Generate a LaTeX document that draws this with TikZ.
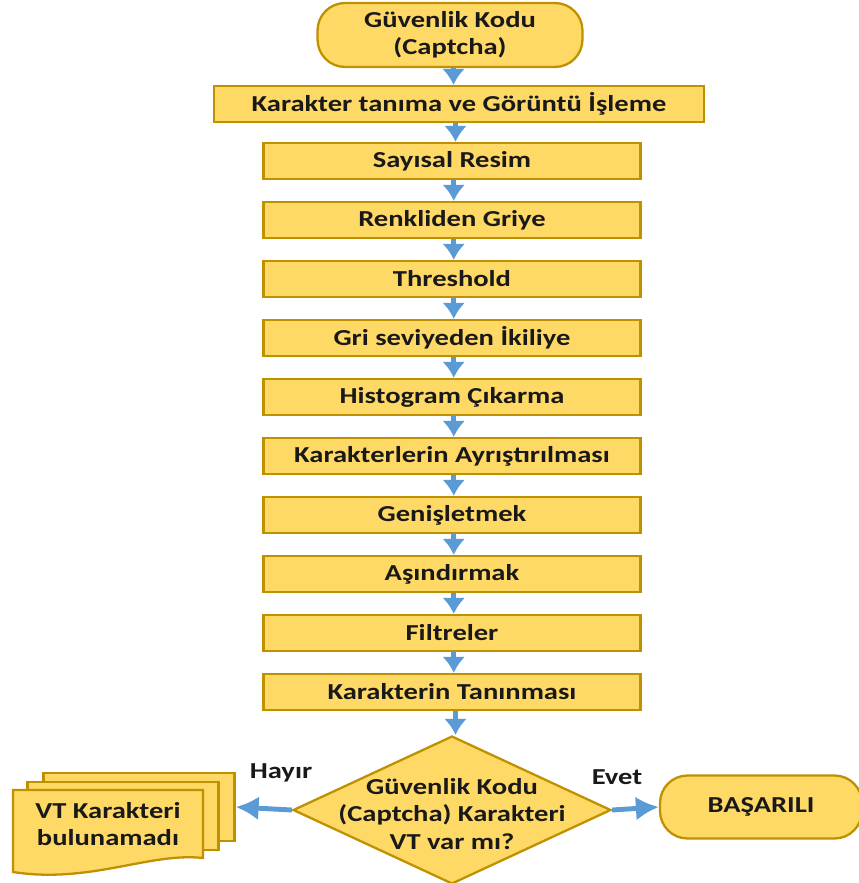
\documentclass[tikz,border=0pt]{standalone}
\usepackage{fontspec}
\setmainfont{Carlito}[FakeStretch=1.25]
\usetikzlibrary{shapes.geometric, arrows.meta}

\definecolor{boxfill}{HTML}{FFD966}
\definecolor{boxline}{HTML}{BF9000}
\definecolor{flowblue}{HTML}{5B9BD5}

\begin{document}
\begin{tikzpicture}[x=0.02cm, y=-0.02cm,
	every node/.style={font=\fontsize{13}{15.5}\selectfont\bfseries, text=black!90},
	stepbox/.style={draw=boxline, fill=boxfill, line width=1.3pt, minimum width=7.54cm, minimum height=0.72cm, inner sep=0pt},
	termbox/.style={draw=boxline, fill=boxfill, line width=1.3pt, rounded corners=0.55cm, inner sep=0pt, align=center},
	pagebox/.style={draw=boxline, fill=boxfill, line width=1.3pt, minimum width=3.82cm, minimum height=1.36cm, inner sep=0pt},
	flow/.style={->, >={Latex[length=3.2mm, width=4.6mm]}, line width=2.8pt, flowblue},
	sideflow/.style={flow, >={Latex[length=4.6mm, width=4.8mm]}}]
	\useasboundingbox (0,0) rectangle (859,883);

	% start
	\node[termbox, minimum width=5.3cm, minimum height=1.28cm] (start) at (450,35) {Güvenlik Kodu\\(Captcha)};
	\node[stepbox, minimum width=9.8cm] (s0) at (459,104) {Karakter tanıma ve Görüntü İşleme};
	\draw[flow] ([xshift=2pt]start.south) -- ([xshift=2pt]start.south |- s0.north);

	% processing steps
	\foreach \i/\txt in {1/Sayısal Resim, 2/Renkliden Griye, 3/Threshold, 4/Gri seviyeden İkiliye,
		5/Histogram Çıkarma, 6/Karakterlerin Ayrıştırılması, 7/Genişletmek, 8/Aşındırmak,
		9/Filtreler, 10/Karakterin Tanınması}
		\node[stepbox] (s\i) at (452, 102+59*\i) {\txt};
	\draw[flow] ([xshift=-2pt]s0.south) -- ([xshift=-2pt]s0.south |- s1.north);
	\foreach \i [evaluate=\i as \j using int(\i+1)] in {1,...,9}
		\draw[flow] ([xshift=1pt]s\i.south) -- ([xshift=1pt]s\j.north);

	% decision
	\node[diamond, draw=boxline, fill=boxfill, line width=1.3pt, minimum width=6.36cm, minimum height=2.96cm, inner sep=0pt] (dec) at (452,810) {};
	\node[align=center] (dectxt) at (452,814) {Güvenlik Kodu\\(Captcha) Karakteri\\VT var mı?};
	\draw[flow] ([xshift=2pt]s10.south) -- ([xshift=2pt]s10.south |- dec.north);

	% not found (stack of pages)
	\node[pagebox] (nf3) at (139,807) {};
	\node[pagebox] (nf2) at (123,816) {};
	\draw[draw=boxline, fill=boxfill, line width=1.3pt] (13,790) -- (203,790) -- (203,858)
		.. controls (150,852) and (90,884) .. (13,872) -- cycle;
	\node[align=center] (nf1) at (108,824) {VT Karakteri\\bulunamadı};

	% success
	\node[termbox, minimum width=4.04cm, minimum height=1.26cm] (ok) at (761,807) {BAŞARILI};

	\draw[sideflow] (dec.west) -- (nf3.east);
	\draw[sideflow] (dec.east) -- (ok.west);
	\node (no) at (281,773) {Hayır};
	\node (yes) at (617,777) {Evet};
\end{tikzpicture}
\end{document}
